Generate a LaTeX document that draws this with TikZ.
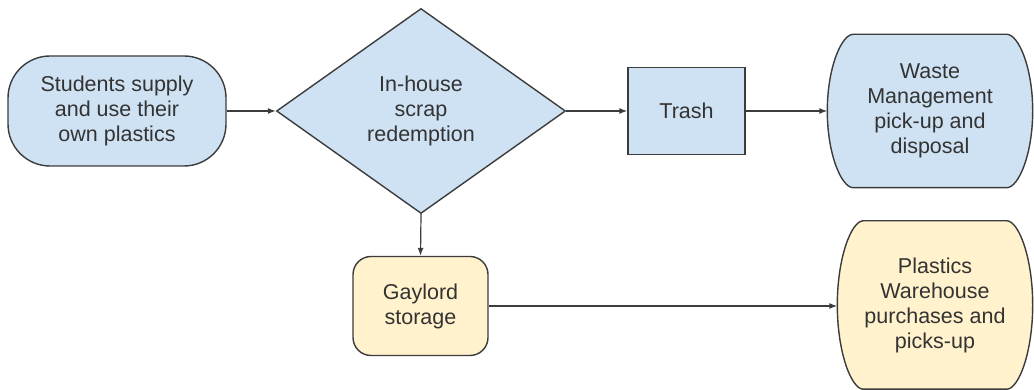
\documentclass[tikz,border=0pt]{standalone}
\usepackage{fontspec}
\setmainfont{Liberation Sans}
\usetikzlibrary{shapes.geometric,arrows.meta,calc}
\definecolor{boxblue}{HTML}{CFE2F3}
\definecolor{boxyellow}{HTML}{FFF2CC}
\definecolor{edgegray}{HTML}{3C3C3C}
\definecolor{txtgray}{HTML}{333333}
\pgfdeclarelayer{background}
\pgfsetlayers{background,main}
\newcommand\bulgeoutline[2]{%
  \path[draw=edgegray, line width=1.4pt, fill=#2]
    let \p1=(#1.north west), \p2=(#1.south east),
        \n1={(\y1+\y2)/2}, \n2={\y1-\y2} in
    (\x1+26,\y1) -- (\x2-26,\y1)
    .. controls (\x2-14,\y1) and (\x2,\y1-0.22*\n2) .. (\x2,\n1)
    .. controls (\x2,\y2+0.22*\n2) and (\x2-14,\y2) .. (\x2-26,\y2)
    -- (\x1+26,\y2)
    .. controls (\x1+14,\y2) and (\x1,\y2+0.22*\n2) .. (\x1,\n1)
    .. controls (\x1,\y1-0.22*\n2) and (\x1+14,\y1) .. (\x1+26,\y1) -- cycle;}
\begin{document}
\begin{tikzpicture}[x=1pt,y=1pt,
  base/.style={draw=edgegray, line width=1.4pt, text=txtgray, align=center,
    font=\fontsize{21.5}{25}\selectfont, inner sep=0pt},
  stadium/.style={base, rectangle, rounded corners=42pt, fill=boxblue,
    minimum width=218pt, minimum height=110pt},
  decision/.style={base, diamond, aspect=1.41, fill=boxblue,
    minimum width=289pt, minimum height=205pt},
  process/.style={base, rectangle, fill=boxblue,
    minimum width=117pt, minimum height=87pt},
  roundbox/.style={base, rectangle, rounded corners=18pt, fill=boxyellow,
    minimum width=135pt, minimum height=99pt},
  bulgebox/.style={base, draw=none, rectangle},
  flow/.style={draw=edgegray, line width=1.2pt, -{Latex[length=8pt,width=6pt]}}
]
\useasboundingbox (0,0) rectangle (1034,390);

\node[stadium] (stud) at (117,279) {Students supply\\and use their\\own plastics};
\node[decision] (dec) at (421,279) {In-house\\scrap\\redemption};
\node[process] (trash) at (686.5,279) {Trash};
\node[bulgebox, minimum width=204pt, minimum height=152pt] (waste) at (930,279)
  {Waste\\Management\\pick-up and\\disposal};
\node[roundbox] (gay) at (420.5,84) {Gaylord\\storage};
\node[bulgebox, minimum width=194pt, minimum height=167pt] (plast) at (935,85)
  {Plastics\\Warehouse\\purchases and\\picks-up};

\begin{pgfonlayer}{background}
  \fill[white] (0,0) rectangle (1034,390);
  \bulgeoutline{waste}{boxblue}
  \bulgeoutline{plast}{boxyellow}
\end{pgfonlayer}

\draw[flow] (stud.east) -- (dec.west);
\draw[flow] (dec.east) -- (trash.west);
\draw[flow] (trash.east) -- (waste.west);
\draw[flow] (dec.south) -- (gay.north);
\draw[flow] (gay.east) -- (gay.east -| plast.west);
\end{tikzpicture}
\end{document}
